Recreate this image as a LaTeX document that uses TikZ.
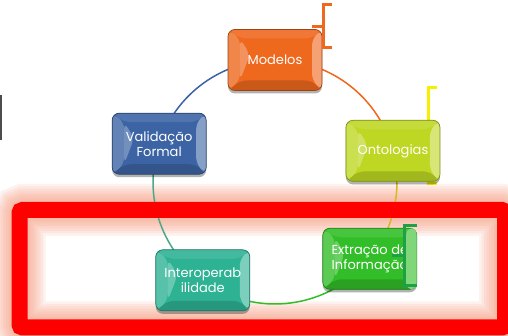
\documentclass[tikz,border=0pt]{standalone}
\usepackage{fontspec}
\setmainfont{Poppins}
\usetikzlibrary{calc,shadows}
\pgfdeclarelayer{glowl}\pgfdeclarelayer{arcl}
\pgfsetlayers{glowl,arcl,main}
\definecolor{cOrange}{RGB}{238,104,30}
\definecolor{cLime}{RGB}{190,215,35}
\definecolor{cGreen}{RGB}{50,190,40}
\definecolor{cTeal}{RGB}{46,178,148}
\definecolor{cBlue}{RGB}{60,100,165}
\definecolor{cGold}{RGB}{216,184,32}
\definecolor{cArcTeal}{RGB}{75,168,138}
\definecolor{cGlow}{RGB}{248,150,120}
\definecolor{cYel}{RGB}{245,240,0}
\definecolor{cDkGreen}{RGB}{30,160,70}
\newcommand\bevfont{\fontsize{13}{15}\selectfont}
\tikzset{
  bev/.style={rounded corners=7pt, minimum width=94pt, minimum height=61pt,
    inner sep=0pt, fill=#1, draw=#1!65!black, line width=0.7pt,
    text=white, font=\bevfont, align=center,
    drop shadow={shadow xshift=0pt,shadow yshift=-3pt,opacity=0.3,fill=black},
    path picture={
      \coordinate (SW) at (path picture bounding box.south west);
      \coordinate (NE) at (path picture bounding box.north east);
      \coordinate (NW) at (SW|-NE);
      \coordinate (SE) at (NE|-SW);
      \fill[#1!90!white] (NW) -- (NE) -- ($(NE)+(-10,-9)$) -- ($(NW)+(12,-9)$) -- cycle;
      \fill[#1!85!black] (SW) -- (SE) -- ($(SE)+(-10,10)$) -- ($(SW)+(12,10)$) -- cycle;
      \fill[#1!80!white] (SW) -- (NW) -- ($(NW)+(12,-9)$) -- ($(SW)+(12,10)$) -- cycle;
      \fill[#1!72!white] ($(NW)+(12,-9)$) -- ($(NW)+(22,-25)$) -- ($(SW)+(12,10)$) -- cycle;
      \fill[#1!62!white] (SE) -- (NE) -- ($(NE)+(-10,-9)$) -- ($(SE)+(-10,10)$) -- cycle;
    }},
  arcline/.style={line width=1.5pt},
  brk/.style={line width=3pt, line join=miter}
}
\begin{document}
\begin{tikzpicture}[x=1pt,y=1pt]
\useasboundingbox (0,0) rectangle (508,336);
\begin{pgfonlayer}{glowl}
  \fill[white] (0,0) rectangle (508,336);
  \foreach \w in {52,47,42,37,32,27,22}
    \draw[cGlow, opacity=0.12, line width=\w pt, rounded corners=4pt] (19.5,8.5) rectangle (505,126);
\end{pgfonlayer}
% grey bar at left
\fill[black!70] (0,196) rectangle (2,241);
% red frame
\draw[red, line width=16pt, rounded corners=3pt] (19.5,8.5) rectangle (505,126);
\coordinate (C) at (275,154);
% yellow bracket (behind box)
\draw[brk, cYel] (437,248) -- (428,248) -- (428,152) -- (437,152);
\node[bev=cOrange] (mod) at ($(C)+(90:122)$) {Modelos};
\node[bev=cLime] (ont) at ($(C)+(14.8:122)$) {Ontologias};
\node[bev=cGreen] (ext) at ($(C)+(-39:122)$) {Extração de\\Informação};
\node[bev=cTeal] (int) at ($(C)+(-126.3:122)$) {Interoperab\\ilidade};
\node[bev=cBlue] (val) at ($(C)+(161.7:122)$) {Validação\\Formal};
% right strip of the green box covering the overflowing text
\fill[cGreen!62!white, rounded corners=6pt] ($(ext.south east)+(-11,0.5)$) rectangle ($(ext.north east)+(-0.5,-0.5)$);
% orange and green brackets
\draw[brk, cOrange] (332,331) -- (323,331) -- (323,288) -- (332,288);
\draw[brk, cOrange] (312,309) -- (323,309);
\draw[brk, cDkGreen] (417,110) -- (404,110) -- (404,50) -- (417,50);
\draw[brk, cDkGreen] (392,80) -- (404,80);
\begin{pgfonlayer}{arcl}
  \draw[arcline, cBlue] (mod.center) arc[start angle=90, end angle=161.7, radius=122];
  \draw[arcline, cOrange] (mod.center) arc[start angle=90, end angle=14.8, radius=122];
  \draw[arcline, cGold] (ont.center) arc[start angle=14.8, end angle=-39, radius=122];
  \draw[arcline, cGreen] (ext.center) arc[start angle=-39, end angle=-126.3, radius=122];
  \draw[arcline, cArcTeal] (int.center) arc[start angle=-126.3, end angle=-198.3, radius=122];
\end{pgfonlayer}
\end{tikzpicture}
\end{document}
